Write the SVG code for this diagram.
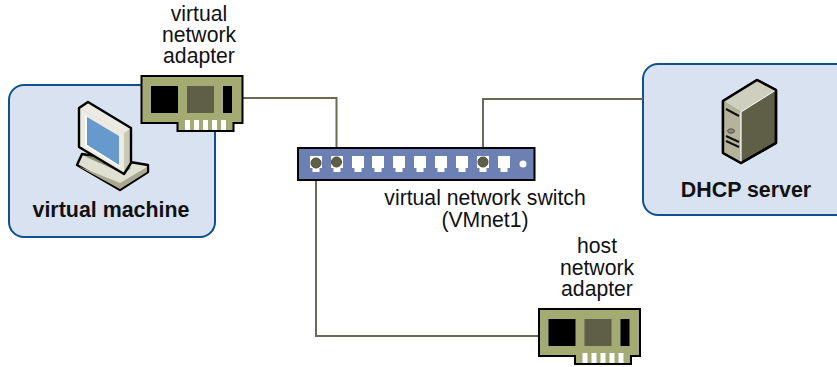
<svg xmlns="http://www.w3.org/2000/svg" width="837" height="367" viewBox="0 0 837 367">
<style>
text{font-family:"Liberation Sans",Arial,sans-serif;font-size:21.2px;fill:#111;text-anchor:middle}
.b{font-weight:700;font-size:21.4px}
.box{fill:#d9e2f1;stroke:#0f5091;stroke-width:2}
.wire{fill:none;stroke:#6b6b55;stroke-width:2}
.dot{fill:#5f5f48;stroke:#4a4a38;stroke-width:1}
.port{fill:#fff}
.blk{stroke:#000;stroke-width:2.400;stroke-linejoin:round}
</style>
<defs>
<g id="card">
<path d="M0 0H101V47H92V55H36V47H0Z" fill="#a3ab73" stroke="#000" stroke-width="2"/>
<rect x="9.500" y="10" width="27" height="27" fill="#000"/>
<rect x="45.500" y="10" width="27" height="27" fill="#5f5f48"/>
<rect x="81.500" y="10" width="9" height="27" fill="#000"/>
<path d="M43.500 44h5v10h-5zM52.500 44h5v10h-5zM61.500 44h5v10h-5zM70.500 44h5v10h-5zM79.500 44h5v10h-5z" fill="#fff"/>
</g>
<path id="port" d="M-6 -8H6V4H3.500V8H-3.500V4H-6Z"/>
</defs>
<g id="vm-box"><rect class="box" x="9" y="85" width="206" height="152" rx="15"/></g>
<g id="dhcp-box"><rect class="box" x="643" y="64" width="210" height="151" rx="15"/></g>
<g id="connectors">
<path class="wire" d="M243 98H336.500V162"/>
<path class="wire" d="M643 99H483V162"/>
<path class="wire" d="M316 163V336H539"/>
</g>
<g id="vm-adapter"><use href="#card" x="141.500" y="76"/></g>
<g id="host-adapter"><use href="#card" x="539" y="309"/></g>
<g id="switch">
<rect x="298" y="148" width="236.500" height="32" fill="#6c80b3" stroke="#000" stroke-width="2"/>
<g class="port">
<use href="#port" x="316" y="164"/><use href="#port" x="337" y="164"/><use href="#port" x="358" y="164"/><use href="#port" x="378" y="164"/><use href="#port" x="399" y="164"/><use href="#port" x="420" y="164"/><use href="#port" x="441" y="164"/><use href="#port" x="462" y="164"/><use href="#port" x="483" y="164"/><use href="#port" x="504" y="164"/>
</g>
<circle cx="523" cy="164" r="3.500" fill="#fff"/>
<circle class="dot" cx="316" cy="163" r="5"/>
<circle class="dot" cx="336.500" cy="162" r="5"/>
<circle class="dot" cx="483" cy="162" r="5"/>
</g>
<g id="computer">
<path class="blk" d="M82 154L148 165V172L120 190L77 165Z" fill="#e0e0d2"/>
<path d="M78 166L120 183L147 167V172L120 189Z" fill="#a9a990"/>
<path d="M84 156L124 174L131 168L105 158Z" fill="#8f8f78"/>
<path d="M79 108L88 102L131 128V163L124 174L79 147Z" fill="#c9c9b5"/>
<path d="M79 108L88 102L131 128L124 133Z" fill="#ebebe3"/>
<path d="M79 108L124 133V174L79 147Z" fill="#ebebe3"/>
<path d="M79 108L88 102L131 128V163L124 174L79 147Z" fill="none" class="blk"/>
<path d="M87 117L119 136V165L87 145Z" fill="#6699cc"/>
<path d="M85 115L87 117V145L119 165L120 167L85 146Z" fill="#fff"/>
</g>
<g id="server">
<path d="M723 101L757 80L776 90V143L741 163L723 153Z" fill="#5f5f48" class="blk"/>
<path d="M723 101L757 80L776 90L741 112Z" fill="#cfcfc0"/>
<path d="M723 101L741 112V163L723 153Z" fill="#b4b49c"/>
<path d="M741 112V163" stroke="#fff" stroke-width="1.200"/>
<path d="M741 112L776 90" stroke="#fff" stroke-width="1"/>
<path d="M723 101L757 80L776 90V143L741 163L723 153Z" fill="none" class="blk"/>
<path d="M726 109L739 116M726 136L739 142M726 141L739 147" stroke="#111" stroke-width="2"/>
<ellipse cx="731" cy="131" rx="3.500" ry="2.200" fill="#8d8d76" stroke="#333" stroke-width=".7"/>
</g>
<g id="labels">
<text x="199" y="21">virtual</text>
<text x="199" y="42">network</text>
<text x="199" y="63">adapter</text>
<text class="b" x="111" y="217">virtual machine</text>
<text class="b" x="746" y="197">DHCP server</text>
<text x="485" y="205">virtual network switch</text>
<text x="485" y="227">(VMnet1)</text>
<text x="597" y="253">host</text>
<text x="597" y="275">network</text>
<text x="597" y="296">adapter</text>
</g>
</svg>
